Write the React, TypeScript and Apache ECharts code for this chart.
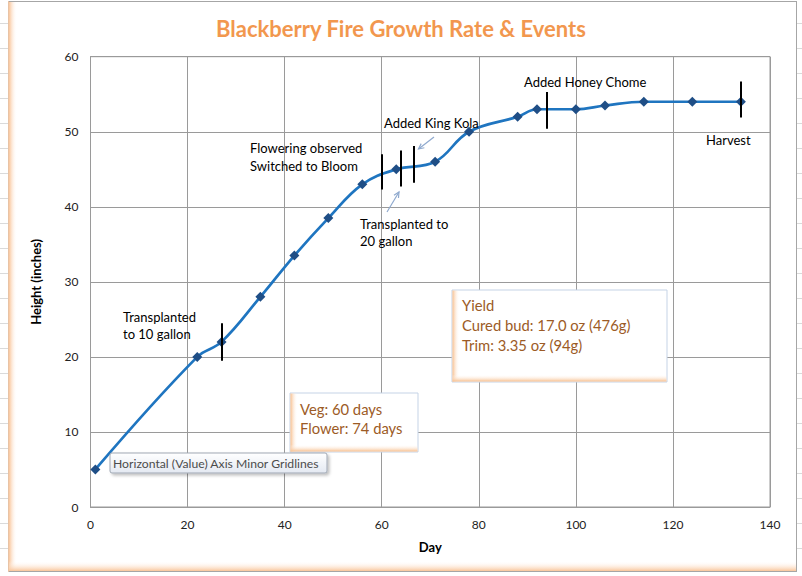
import React, { useEffect, useRef } from 'react';
import * as echarts from 'echarts';

// Growth measurements
const days = [1, 22, 27, 35, 42, 49, 56, 63, 71, 78, 88, 92, 100, 106, 114, 124, 134];
const heights = [5, 20, 22, 28, 33.5, 38.5, 43, 45, 46, 50, 52, 53, 53, 53.5, 54, 54, 54];

// Event markers (vertical bars)
const eventDays = [27, 60, 64, 66.5, 94, 134];
const eventLow = [19.5, 42.3, 42.7, 43.2, 50.4, 51.9];
const eventHigh = [24.5, 47, 47.5, 48.1, 55.3, 56.7];

// Axis ranges
const xRange = [0, 140];
const xStep = 20;
const yRange = [0, 60];
const yStep = 10;

const FONT = 'Lato, "Open Sans", sans-serif';

function txt(text: string, x: number, y: number, size: number, fill: string, extra: any = {}) {
  return {
    type: 'text',
    x,
    y,
    z: 110,
    style: {
      text,
      fill,
      font: `${extra.weight || 'normal'} ${size}px ${FONT}`,
      textAlign: extra.align || 'left',
      textVerticalAlign: 'middle',
      verticalAlign: 'middle',
    },
  };
}

function arrow(x1: number, y1: number, x2: number, y2: number) {
  const ang = Math.atan2(y2 - y1, x2 - x1);
  const L = 6;
  const a1 = ang + Math.PI - 0.45;
  const a2 = ang + Math.PI + 0.45;
  const color = '#8FA9CE';
  return [
    { type: 'line', z: 105, shape: { x1, y1, x2, y2 }, style: { stroke: color, lineWidth: 1.2 } },
    {
      type: 'polyline',
      z: 105,
      shape: {
        points: [
          [x2 + L * Math.cos(a1), y2 + L * Math.sin(a1)],
          [x2, y2],
          [x2 + L * Math.cos(a2), y2 + L * Math.sin(a2)],
        ],
      },
      style: { stroke: color, lineWidth: 1.2, fill: 'none' },
    },
  ];
}

function excelBox(x: number, y: number, w: number, h: number) {
  const orange = '#F8C08F';
  return [
    {
      type: 'rect',
      z: 100,
      shape: { x, y, width: w, height: h },
      style: { fill: '#fff', stroke: '#C5D3E6', lineWidth: 1 },
    },
    {
      type: 'rect',
      z: 101,
      shape: { x: x + 0.5, y: y + 0.5, width: 7, height: h - 1 },
      style: {
        fill: new echarts.graphic.LinearGradient(0, 0, 1, 0, [
          { offset: 0, color: orange },
          { offset: 1, color: 'rgba(255,255,255,0)' },
        ]),
      },
    },
    {
      type: 'rect',
      z: 101,
      shape: { x: x + 0.5, y: y + h - 7.5, width: w - 1, height: 7 },
      style: {
        fill: new echarts.graphic.LinearGradient(0, 0, 0, 1, [
          { offset: 0, color: 'rgba(255,255,255,0)' },
          { offset: 1, color: orange },
        ]),
      },
    },
  ];
}

export default function App() {
  const ref = useRef<HTMLDivElement>(null);

  useEffect(() => {
    if (!ref.current) return;
    const chart = echarts.init(ref.current, undefined, { renderer: 'svg' });

    const lineData = days.map((d, i) => [d, heights[i]]);
    const eventLines = eventDays.map((d, i) => [
      { coord: [d, eventLow[i]] },
      { coord: [d, eventHigh[i]] },
    ]);

    const sheetLines: any[] = [];
    for (let k = 0; k < 22; k++) {
      const y = 23.5 + 25 * k;
      sheetLines.push({ type: 'line', z: 0, shape: { x1: 0, y1: y, x2: 9, y2: y }, style: { stroke: '#DADADA', lineWidth: 1 } });
      sheetLines.push({ type: 'line', z: 0, shape: { x1: 797, y1: y, x2: 802, y2: y }, style: { stroke: '#DADADA', lineWidth: 1 } });
    }

    const frame: any[] = [
      ...sheetLines,
      {
        type: 'rect',
        z: 1,
        shape: { x: 9, y: 1, width: 8, height: 570 },
        style: {
          fill: new echarts.graphic.LinearGradient(0, 0, 1, 0, [
            { offset: 0, color: '#F9C59A' },
            { offset: 1, color: 'rgba(255,255,255,0)' },
          ]),
        },
      },
      {
        type: 'rect',
        z: 1,
        shape: { x: 9, y: 561, width: 787, height: 10 },
        style: {
          fill: new echarts.graphic.LinearGradient(0, 0, 0, 1, [
            { offset: 0, color: 'rgba(255,255,255,0)' },
            { offset: 1, color: '#F9C59A' },
          ]),
        },
      },
      { type: 'line', z: 2, shape: { x1: 9, y1: 1.5, x2: 796, y2: 1.5 }, style: { stroke: '#A6A6A6', lineWidth: 1 } },
      { type: 'line', z: 2, shape: { x1: 796.5, y1: 1, x2: 796.5, y2: 572 }, style: { stroke: '#A6A6A6', lineWidth: 1 } },
      { type: 'line', z: 2, shape: { x1: 9, y1: 571.5, x2: 797, y2: 571.5 }, style: { stroke: '#A6A6A6', lineWidth: 1 } },
      { type: 'line', z: 2, shape: { x1: 8.5, y1: 1, x2: 8.5, y2: 572 }, style: { stroke: '#E8C3A5', lineWidth: 1 } },
    ];

    const annotations: any[] = [
      txt('Transplanted', 123, 317, 13, '#000'),
      txt('to 10 gallon', 123, 334, 13, '#000'),
      txt('Flowering observed', 250, 148, 13, '#000'),
      txt('Switched to Bloom', 250, 166, 13, '#000'),
      txt('Added King Kola', 384, 123, 13, '#000'),
      txt('Transplanted to', 360, 224, 13, '#000'),
      txt('20 gallon', 360, 241, 13, '#000'),
      txt('Added Honey Chome', 524, 82, 13, '#000'),
      txt('Harvest', 706, 140, 13, '#000'),
      ...arrow(434, 137, 418.5, 149),
      ...arrow(387, 212, 399, 192),
    ];

    const boxes: any[] = [
      ...excelBox(452, 290, 215, 92),
      txt('Yield', 462, 305, 14.8, '#9C5B26'),
      txt('Cured bud: 17.0 oz (476g)', 462, 325, 14.8, '#9C5B26'),
      txt('Trim: 3.35 oz (94g)', 462, 345, 14.8, '#9C5B26'),
      ...excelBox(290, 393, 128, 59),
      txt('Veg: 60 days', 300, 409, 14.8, '#9C5B26'),
      txt('Flower: 74 days', 300, 428, 14.8, '#9C5B26'),
      {
        type: 'rect',
        z: 120,
        shape: { x: 110, y: 453, width: 217, height: 20, r: 2 },
        style: {
          fill: new echarts.graphic.LinearGradient(0, 0, 0, 1, [
            { offset: 0, color: '#FFFFFF' },
            { offset: 1, color: '#E4E9F2' },
          ]),
          stroke: '#9FA7B3',
          lineWidth: 1,
          shadowBlur: 3,
          shadowOffsetX: 2,
          shadowOffsetY: 2,
          shadowColor: 'rgba(0,0,0,0.25)',
        },
      },
      { ...txt('Horizontal (Value) Axis Minor Gridlines', 113, 463.5, 12.2, '#4C4C4C'), z: 121 },
    ];

    chart.setOption({
      animation: false,
      backgroundColor: '#fff',
      title: {
        text: 'Blackberry Fire Growth Rate & Events',
        left: 'center',
        top: 12,
        textStyle: { color: '#F2974E', fontSize: 22, fontWeight: 'bold', fontFamily: FONT },
      },
      grid: {
        left: 90.5,
        right: 32,
        top: 56.7,
        bottom: 69,
        show: true,
        borderColor: '#9A9A9A',
        borderWidth: 1,
        backgroundColor: 'transparent',
      },
      xAxis: {
        type: 'value',
        min: xRange[0],
        max: xRange[1],
        interval: xStep,
        name: 'Day',
        nameLocation: 'middle',
        nameGap: 33,
        nameTextStyle: { fontFamily: FONT, fontSize: 13, fontWeight: 'bold', color: '#000' },
        axisLine: { show: true, lineStyle: { color: '#9A9A9A' } },
        axisTick: { show: false },
        axisLabel: { fontFamily: FONT, fontSize: 12, color: '#222', margin: 11 },
        splitLine: { show: true, lineStyle: { color: '#9A9A9A', width: 1 } },
      },
      yAxis: {
        type: 'value',
        min: yRange[0],
        max: yRange[1],
        interval: yStep,
        name: 'Height (inches)',
        nameLocation: 'middle',
        nameGap: 48,
        nameRotate: 90,
        nameTextStyle: { fontFamily: FONT, fontSize: 13, fontWeight: 'bold', color: '#000' },
        axisLine: { show: true, lineStyle: { color: '#9A9A9A' } },
        axisTick: { show: false },
        axisLabel: { fontFamily: FONT, fontSize: 12, color: '#222', margin: 12 },
        splitLine: { show: true, lineStyle: { color: '#9A9A9A', width: 1 } },
      },
      graphic: [...frame, ...annotations, ...boxes],
      series: [
        {
          type: 'line',
          data: lineData,
          smooth: 0.4,
          symbol: 'diamond',
          symbolSize: 10,
          lineStyle: { color: '#1F75C0', width: 2.7 },
          itemStyle: { color: '#1F4E86' },
          z: 3,
          markLine: {
            silent: true,
            symbol: ['none', 'none'],
            label: { show: false },
            lineStyle: { color: '#000', width: 2, type: 'solid' },
            data: eventLines,
            z: 4,
          },
        },
      ],
    });

    return () => chart.dispose();
  }, []);

  return (
    <div
      ref={ref}
      style={{ position: 'fixed', left: 0, top: 0, width: 802, height: 576 }}
    />
  );
}
